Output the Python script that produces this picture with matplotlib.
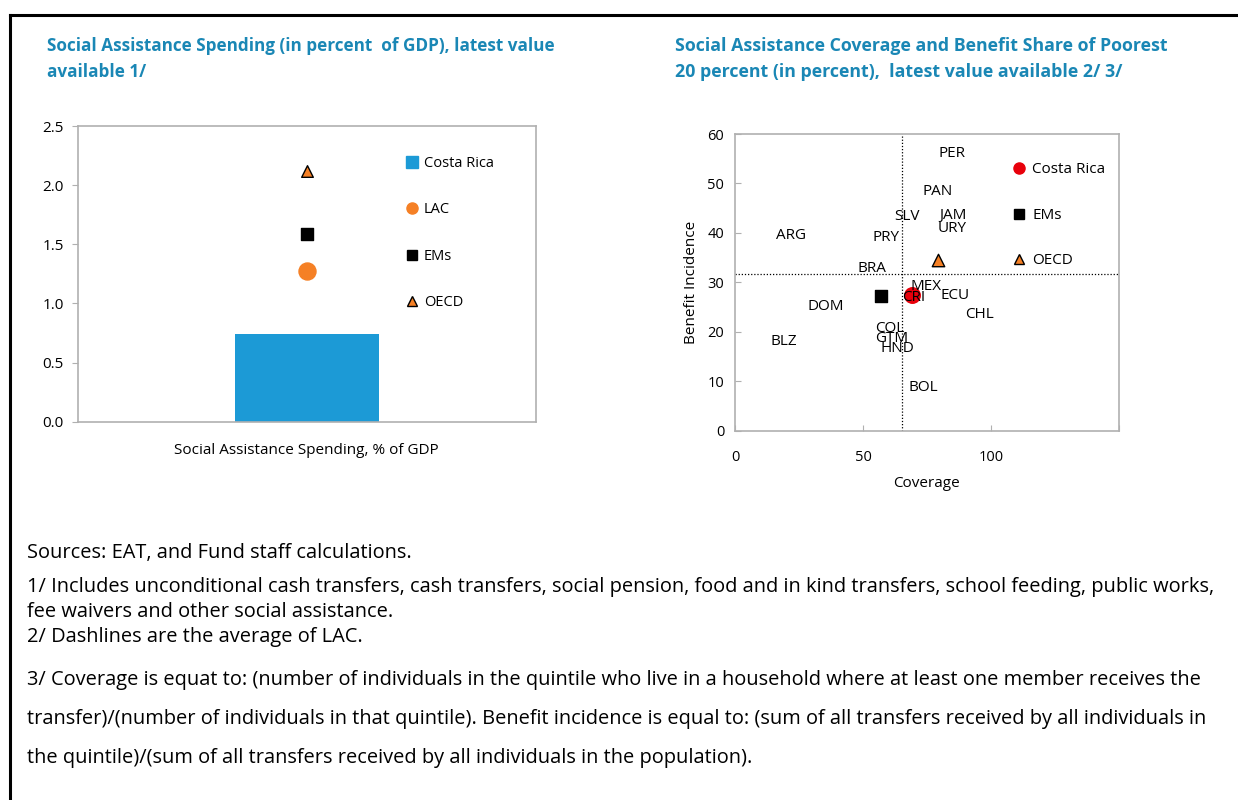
import matplotlib
matplotlib.use("Agg")
import matplotlib.pyplot as plt
from matplotlib.lines import Line2D

plt.rcParams['font.family'] = ['Open Sans', 'DejaVu Sans']

# ---------------- data ----------------
bar_category = ["Social Assistance Spending, % of GDP"]
spend_costa_rica = [0.74]
spend_lac = [1.27]
spend_ems = [1.59]
spend_oecd = [2.12]

countries = ["PER", "PAN", "SLV", "JAM", "URY", "ARG", "PRY", "BRA", "MEX", "CRI",
             "ECU", "CHL", "DOM", "COL", "GTM", "HND", "BLZ", "BOL"]
coverage = [84.9, 79.2, 67.3, 85.3, 84.8, 21.8, 58.8, 53.5, 74.5, 69.9,
            86.0, 95.5, 35.4, 60.5, 61.2, 63.4, 18.8, 73.6]
incidence = [56.0, 48.4, 43.4, 43.5, 40.9, 39.5, 39.1, 32.7, 29.1, 26.9,
             27.4, 23.5, 25.2, 20.7, 18.7, 16.7, 18.1, 8.8]

cr_point = (69.3, 27.4)
ems_point = (57.0, 27.3)
oecd_point = (79.2, 34.5)
lac_avg_coverage = 65.3
lac_avg_incidence = 31.6

title_left = ["Social Assistance Spending (in percent  of GDP), latest value",
              "available 1/"]
title_right = ["Social Assistance Coverage and Benefit Share of Poorest",
               "20 percent (in percent),  latest value available 2/ 3/"]
footnotes = [
    "Sources: EAT, and Fund staff calculations.",
    "1/ Includes unconditional cash transfers, cash transfers, social pension, food and in kind transfers, school feeding, public works,",
    "fee waivers and other social assistance.",
    "2/ Dashlines are the average of LAC.",
    "3/ Coverage is equat to: (number of individuals in the quintile who live in a household where at least one member receives the",
    "transfer)/(number of individuals in that quintile). Benefit incidence is equal to: (sum of all transfers received by all individuals in",
    "the quintile)/(sum of all transfers received by all individuals in the population).",
]

# ---------------- style ----------------
W, H = 1238, 800
fig = plt.figure(figsize=(W / 100, H / 100), dpi=100)
title_color = "#1A87B5"
spine_color = "#B0B0B0"
blue = "#1C9AD6"
orange = "#F58025"
red = "#E8000B"

def px_rect(x0, y0, x1, y1):
    return [x0 / W, 1 - y1 / H, (x1 - x0) / W, (y1 - y0) / H]

# frame lines
fig.add_artist(Line2D([10 / W, 10 / W], [0, 1 - 15 / H], color="black", lw=2.2))
fig.add_artist(Line2D([10 / W, 1], [1 - 15 / H, 1 - 15 / H], color="black", lw=2.2))

# ---------------- left chart ----------------
ax1 = fig.add_axes(px_rect(77.7, 126, 535.7, 421.7))
xpos = [0]
ax1.bar(xpos, spend_costa_rica, width=0.315, color=blue, zorder=2)
ax1.scatter(xpos, spend_lac, s=150, color=orange, marker="o", zorder=3)
ax1.scatter(xpos, spend_ems, s=80, color="black", marker="s", zorder=3)
ax1.scatter(xpos, spend_oecd, s=70, color=orange, marker="^", edgecolor="black",
            linewidth=1, zorder=3)
ax1.set_xlim(-0.5, 0.5)
ax1.set_ylim(0, 2.5)
ax1.set_yticks([0, 0.5, 1.0, 1.5, 2.0, 2.5])
ax1.set_yticklabels(["0.0", "0.5", "1.0", "1.5", "2.0", "2.5"])
ax1.set_xticks(xpos)
ax1.set_xticklabels(bar_category)
ax1.tick_params(axis="x", length=0, labelsize=11, pad=15)
ax1.tick_params(axis="y", length=4, color=spine_color, labelsize=11, pad=6, direction="out")
for s in ax1.spines.values():
    s.set_color(spine_color)
    s.set_linewidth(1.2)

leg_handles = [
    Line2D([], [], marker="s", linestyle="none", color=blue, markersize=8),
    Line2D([], [], marker="o", linestyle="none", color=orange, markersize=8),
    Line2D([], [], marker="s", linestyle="none", color="black", markersize=7),
    Line2D([], [], marker="^", linestyle="none", markerfacecolor=orange,
           markeredgecolor="black", markersize=7),
]
ax1.legend(leg_handles, ["Costa Rica", "LAC", "EMs", "OECD"],
           loc="upper left", bbox_to_anchor=(0.705, 0.918), frameon=False,
           fontsize=10.5, labelspacing=2.15, handlelength=0.8,
           handletextpad=0.4, borderaxespad=0)

for i, line in enumerate(title_left):
    fig.text(47 / W, 1 - (46 + 26 * i) / H, line, color=title_color, fontsize=12.3,
             fontweight="bold", va="center", ha="left")

# ---------------- right chart ----------------
ax2 = fig.add_axes(px_rect(735.3, 134, 1118.7, 430.7))
ax2.set_xlim(0, 150)
ax2.set_ylim(0, 60)
ax2.axvline(lac_avg_coverage, color="black", linestyle=(0, (1, 1.5)), lw=0.9, zorder=1)
ax2.axhline(lac_avg_incidence, color="black", linestyle=(0, (1, 1.5)), lw=0.9, zorder=1)
for name, cx, cy in zip(countries, coverage, incidence):
    ax2.text(cx, cy, name, ha="center", va="center", fontsize=11, zorder=4)
ax2.scatter([cr_point[0]], [cr_point[1]], s=125, color=red, marker="o", zorder=3)
ax2.scatter([ems_point[0]], [ems_point[1]], s=65, color="black", marker="s", zorder=3)
ax2.scatter([oecd_point[0]], [oecd_point[1]], s=80, color=orange, marker="^",
            edgecolor="black", linewidth=1, zorder=3)
ax2.set_xticks([0, 50, 100, 150])
ax2.set_xticklabels(["0", "50", "100", ""])
ax2.set_yticks([0, 10, 20, 30, 40, 50, 60])
ax2.tick_params(axis="both", length=4, color=spine_color, labelsize=10.5, direction="in")
ax2.tick_params(axis="x", pad=14)
ax2.tick_params(axis="y", pad=8)
ax2.set_xlabel("Coverage", fontsize=11, labelpad=8)
ax2.set_ylabel("Benefit Incidence", fontsize=11, labelpad=6)
for s in ax2.spines.values():
    s.set_color(spine_color)
    s.set_linewidth(1.2)

leg_handles2 = [
    Line2D([], [], marker="o", linestyle="none", color=red, markersize=8),
    Line2D([], [], marker="s", linestyle="none", color="black", markersize=7),
    Line2D([], [], marker="^", linestyle="none", markerfacecolor=orange,
           markeredgecolor="black", markersize=7),
]
ax2.legend(leg_handles2, ["Costa Rica", "EMs", "OECD"], loc="upper left",
           bbox_to_anchor=(0.707, 0.925), frameon=False, fontsize=11,
           labelspacing=2.0, handlelength=0.8, handletextpad=0.5, borderaxespad=0)

for i, line in enumerate(title_right):
    fig.text(675 / W, 1 - (46 + 26 * i) / H, line, color=title_color, fontsize=12.75,
             fontweight="bold", va="center", ha="left")

# ---------------- footnotes ----------------
foot_y = [553, 587, 612, 637, 680, 719, 758]
for txt, y in zip(footnotes, foot_y):
    fig.text(27 / W, 1 - y / H, txt, fontsize=14.45, va="center", ha="left")

fig.savefig("out.png", dpi=100)
